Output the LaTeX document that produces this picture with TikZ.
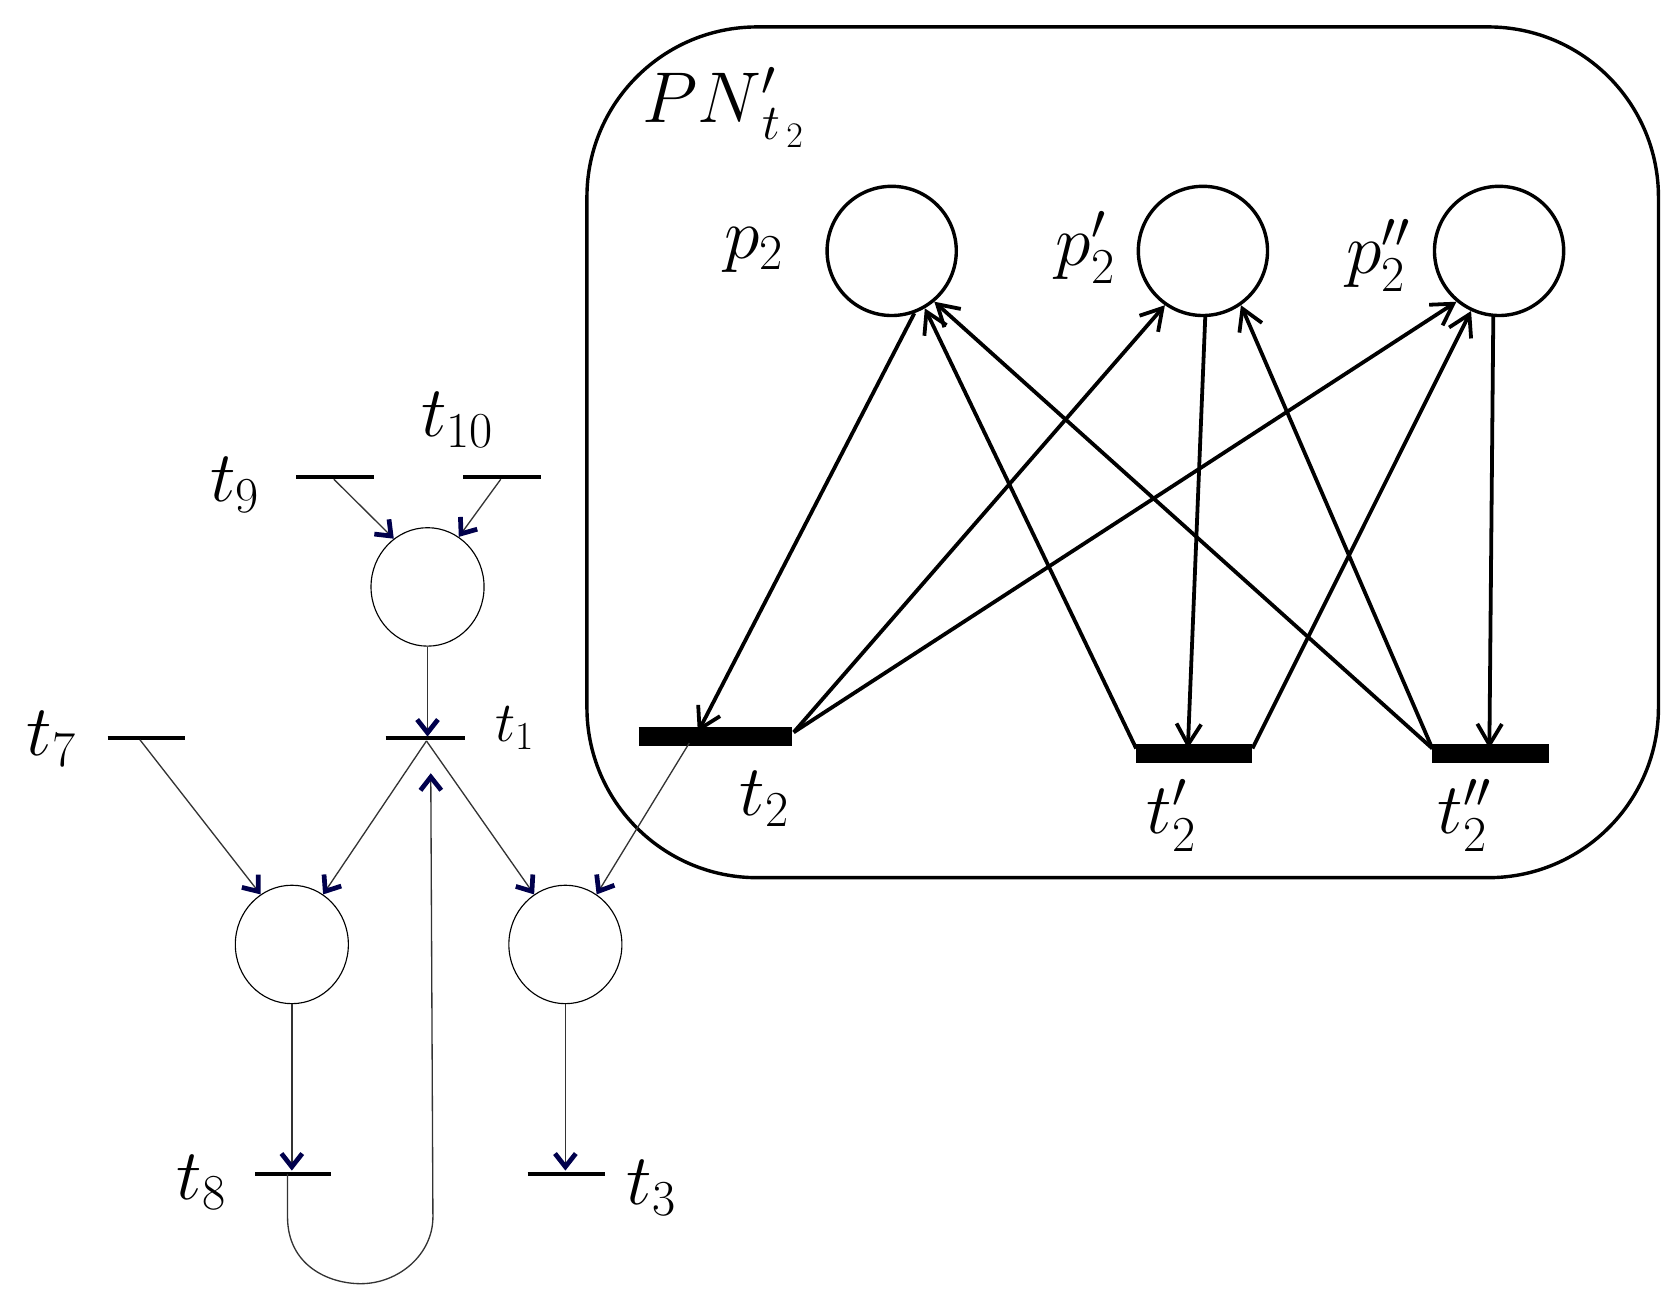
\RequirePackage{fix-cm}
\documentclass[tikz,border=0pt]{standalone}
\usetikzlibrary{arrows.meta,shapes.geometric}
\begin{document}
\begin{tikzpicture}[x=0.02cm,y=-0.02cm,
  big/.style={circle,draw,line width=1.8pt,minimum size=2.4cm,inner sep=0},
  small/.style={ellipse,draw,line width=0.6pt,minimum width=2.1cm,minimum height=2.2cm,inner sep=0},
  arc/.style={line width=2pt,-{Straight Barb[length=11pt,width=13pt,line width=2pt]}},
  sarc/.style={line width=0.7pt,draw=black!80,-{Straight Barb[length=7pt,width=11pt,line width=2.5pt,color=blue!30!black]}},
  lab/.style={font=\fontsize{38}{42}\selectfont},
  slab/.style={font=\fontsize{30}{34}\selectfont}]
\useasboundingbox (0,0) rectangle (1560,1212);
% box
\draw[line width=1.8pt,rounded corners=90] (545,25) rectangle (1540,815);
\node[lab] (PN) at (672,100) {$PN'_{\,t_{\,2}}$};
% places right
\node[big] (p2) at (828,233) {};
\node[big] (p2a) at (1117,233) {};
\node[big] (p2b) at (1392,233) {};
\node[lab] (lp2) at (700,232) {$p_2$};
\node[lab] (lp2a) at (1008,230) {$p'_2$};
\node[lab] (lp2b) at (1280,237) {$p''_2$};
% transitions right
\draw[line width=10pt] (593,684) coordinate (t2l) -- (735,684) coordinate (t2r);
\draw[line width=10pt] (1055,700) coordinate (t2al) -- (1163,700) coordinate (t2ar);
\draw[line width=10pt] (1330,700) coordinate (t2bl) -- (1438,700) coordinate (t2br);
\node[lab] (lt2) at (710,742) {$t_2$};
\node[lab] (lt2a) at (1088,757) {$t'_2$};
\node[lab] (lt2b) at (1360,757) {$t''_2$};
\coordinate (t2in) at (648,680);
\coordinate (t2ain) at (1103,695);
\coordinate (t2bin) at (1383,695);
\coordinate (t2src) at (737,680);
\coordinate (t2asrc) at (1055,695);
\coordinate (t2asrc2) at (1163,695);
\coordinate (t2bsrc) at (1330,695);
\draw[arc] (p2.290) -- (t2in);
\draw[arc] (t2src) -- (p2a.235);
\draw[arc] (t2src) -- (p2b.230);
\draw[arc] (t2asrc) -- (p2.300);
\draw[arc] (p2a.272) -- (t2ain);
\draw[arc] (t2asrc2) -- (p2b.245);
\draw[arc] (t2bsrc) -- (p2.310);
\draw[arc] (t2bsrc) -- (p2a.305);
\draw[arc] (p2b.265) -- (t2bin);
% left part
\node[small] (q1) at (397,545) {};
\node[small] (q2) at (271,877) {};
\node[small] (q3) at (525,877) {};
\draw[line width=2.2pt] (275,443) coordinate (t9l) -- (347,443) coordinate (t9r);
\draw[line width=2.2pt] (430,443) coordinate (t10l) -- (502,443) coordinate (t10r);
\draw[line width=2.2pt] (358,685) coordinate (t1l) -- (432,685) coordinate (t1r);
\draw[line width=2.2pt] (100,685) coordinate (t7l) -- (172,685) coordinate (t7r);
\draw[line width=2.2pt] (237,1090) coordinate (t8l) -- (307,1090) coordinate (t8r);
\draw[line width=2.2pt] (490,1090) coordinate (t3l) -- (562,1090) coordinate (t3r);
\node[lab] (l9) at (218,450) {$t_9$};
\node[lab] (l10) at (425,390) {$t_{10}$};
\node[slab] (l1) at (478,676) {$t_1$};
\node[lab] (l7) at (48,686) {$t_7$};
\node[lab] (l8) at (187,1098) {$t_8$};
\node[lab] (l3) at (605,1103) {$t_3$};
\coordinate (a9) at (310,445); \coordinate (a10) at (465,445);
\coordinate (a1in) at (397,684); \coordinate (a1o) at (396,688);
\coordinate (a7) at (130,687); \coordinate (a2o) at (640,690);
\coordinate (a8) at (271,1087); \coordinate (a3) at (525,1087);
\draw[sarc] (a9) -- (q1.125);
\draw[sarc] (a10) -- (q1.58);
\draw[sarc] (q1.south) -- (a1in);
\draw[sarc] (a1o) -- (q2.58);
\draw[sarc] (a1o) -- (q3.122);
\draw[sarc] (a7) -- (q2.122);
\draw[sarc] (a2o) -- (q3.58);
\draw[sarc] (q2.south) -- (a8);
\draw[sarc] (q3.south) -- (a3);
\coordinate (a1up) at (400,718);
\draw[sarc] (267,1090) -- (267,1130) .. controls (267,1175) and (305,1192) .. (335,1192) .. controls (370,1192) and (402,1165) .. (402,1130) -- (a1up);
\end{tikzpicture}
\end{document}
